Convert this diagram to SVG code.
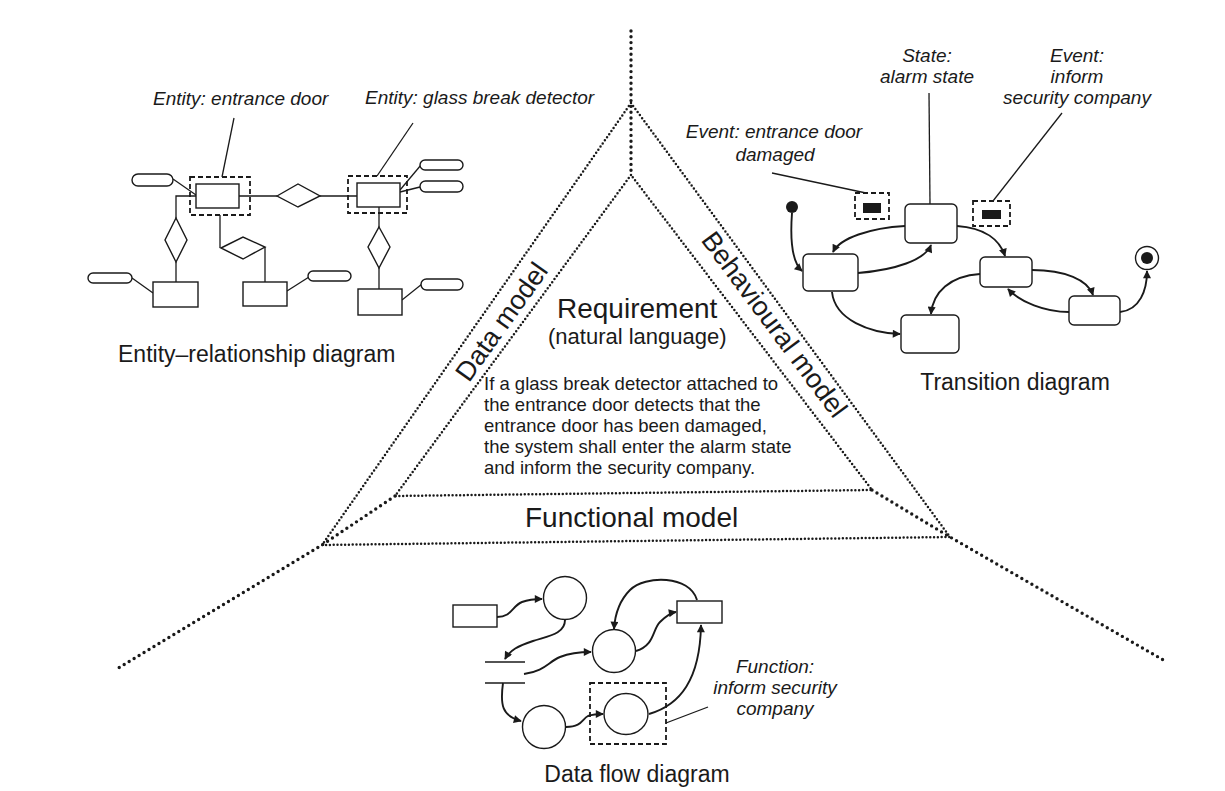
<svg xmlns="http://www.w3.org/2000/svg" width="1225" height="791" viewBox="0 0 1225 791">
<defs>
<style>
.t{font-family:"Liberation Sans",Arial,sans-serif;fill:#1a1a1a}
.it{font-family:"Liberation Sans",Arial,sans-serif;font-style:italic;font-size:19px;fill:#1a1a1a}
.big{font-size:28px}
.lbl{font-size:23px}
.para{font-size:18.5px}
.ln{stroke:#1a1a1a;stroke-width:1.3;fill:none}
.box{stroke:#1a1a1a;stroke-width:1.4;fill:#fff}
.dash{stroke:#1a1a1a;stroke-width:1.8;fill:none;stroke-dasharray:5 3}
.fill{fill:#1a1a1a}
.edge{stroke:#1a1a1a;stroke-width:2.5;fill:none;stroke-dasharray:0 3.8;stroke-linecap:round}
.spoke{stroke:#1a1a1a;stroke-width:3.4;fill:none;stroke-dasharray:0 5.8;stroke-linecap:round}
.arr{stroke:#1a1a1a;stroke-width:1.9;fill:none;marker-end:url(#ah)}
</style>
<marker id="ah" viewBox="0 0 10 10" refX="9" refY="5" markerWidth="10" markerHeight="8" markerUnits="userSpaceOnUse" orient="auto"><path d="M0,0 L10,5 L0,10 z" fill="#1a1a1a"/></marker>
</defs>
<rect width="1225" height="791" fill="#fff"/>

<g id="framework">
<polygon class="edge" points="631,103 322,545 950,537"/>
<polygon class="edge" points="631,175 395,496 872,490"/>
<polyline class="spoke" points="631,31 631,175"/>
<polyline class="spoke" points="395,496 322,545 115,670"/>
<polyline class="spoke" points="872,490 950,537 1165,661"/>
</g>

<g id="requirement">
<text class="t big" x="557" y="318">Requirement</text>
<text class="t" x="548" y="344" font-size="22">(natural language)</text>
<text class="t para" x="484" y="390">If a glass break detector attached to</text>
<text class="t para" x="484" y="411">the entrance door detects that the</text>
<text class="t para" x="484" y="432">entrance door has been damaged,</text>
<text class="t para" x="484" y="453">the system shall enter the alarm state</text>
<text class="t para" x="484" y="474">and inform the security company.</text>
</g>
<g id="data-model"><text class="t" font-size="27" text-anchor="middle" transform="translate(509,327) rotate(-54.5)">Data model</text></g>
<g id="behavioural-model"><text class="t" font-size="27" text-anchor="middle" transform="translate(767,330) rotate(53.3)">Behavioural model</text></g>
<g id="functional-model"><text class="t big" x="525" y="527">Functional model</text></g>

<!-- Entity-relationship diagram -->
<g id="er-connectors">
<line class="ln" x1="234" y1="118" x2="222" y2="177"/>
<line class="ln" x1="413" y1="123" x2="377" y2="176"/>
<line class="ln" x1="173" y1="179" x2="196" y2="195"/>
<line class="ln" x1="239" y1="196" x2="277" y2="196"/>
<line class="ln" x1="320" y1="196" x2="357" y2="196"/>
<polyline class="ln" points="196,196 176,196 176,218"/>
<line class="ln" x1="176" y1="262" x2="176" y2="282"/>
<line class="ln" x1="132" y1="278" x2="153" y2="293"/>
<line class="ln" x1="220" y1="215" x2="220" y2="248"/>
<line class="ln" x1="265" y1="247" x2="265" y2="282"/>
<line class="ln" x1="287" y1="291" x2="309" y2="277"/>
<line class="ln" x1="379" y1="207" x2="379" y2="227"/>
<line class="ln" x1="379" y1="268" x2="379" y2="289"/>
<line class="ln" x1="402" y1="300" x2="422" y2="284"/>
<line class="ln" x1="421" y1="165" x2="400" y2="190"/>
<line class="ln" x1="420" y1="187" x2="400" y2="192"/>
</g>
<g id="er-entity-door">
<rect class="dash" x="190" y="177" width="60" height="38"/>
<rect class="box" x="196" y="184" width="43" height="24"/>
<text class="it" x="153" y="105">Entity: entrance door</text>
</g>
<g id="er-entity-detector">
<rect class="dash" x="348" y="176" width="59" height="37"/>
<rect class="box" x="357" y="183" width="43" height="24"/>
<text class="it" x="365" y="104">Entity: glass break detector</text>
</g>
<g id="er-rel-top"><polygon class="box" points="277,196 298,184 320,196 298,207"/></g>
<g id="er-rel-left"><polygon class="box" points="176,218 187,240 176,262 165,240"/></g>
<g id="er-rel-mid"><polygon class="box" points="221,248 243,237 265,247 243,259"/></g>
<g id="er-rel-right"><polygon class="box" points="379,227 390,247 379,268 368,247"/></g>
<g id="er-ent-left"><rect class="box" x="153" y="282" width="45" height="25"/></g>
<g id="er-ent-mid"><rect class="box" x="243" y="282" width="44" height="24"/></g>
<g id="er-ent-right"><rect class="box" x="358" y="289" width="44" height="26"/></g>
<g id="er-attributes">
<rect class="box" x="132" y="174" width="41" height="12" rx="6"/>
<rect class="box" x="88" y="273" width="44" height="10" rx="5"/>
<rect class="box" x="308" y="271" width="43" height="10" rx="5"/>
<rect class="box" x="421" y="279" width="42" height="11" rx="5.5"/>
<rect class="box" x="420" y="160" width="43" height="10" rx="5"/>
<rect class="box" x="420" y="181" width="43" height="11" rx="5.5"/>
</g>
<g id="er-title"><text class="t lbl" x="118" y="362">Entity–relationship diagram</text></g>

<!-- Transition diagram -->
<g id="td-connectors">
<line class="ln" x1="772" y1="173" x2="866" y2="193"/>
<line class="ln" x1="929" y1="93" x2="930" y2="204"/>
<line class="ln" x1="1062" y1="113" x2="993" y2="201"/>
<path class="arr" d="M792,213 C790,240 792,262 802,271"/>
<path class="arr" d="M905,226 C870,228 840,238 833,252"/>
<path class="arr" d="M858,273 C895,270 925,260 931,245"/>
<path class="arr" d="M957,226 C985,228 1000,240 1005,256"/>
<path class="arr" d="M980,274 C950,276 933,292 931,314"/>
<path class="arr" d="M832,292 C835,320 870,333 900,334"/>
<path class="arr" d="M1032,270 C1065,270 1088,280 1093,295"/>
<path class="arr" d="M1069,312 C1045,312 1020,302 1008,289"/>
<path class="arr" d="M1120,312 C1140,310 1147,290 1147,271"/>
</g>
<g id="td-initial"><circle class="fill" cx="792" cy="207" r="6"/></g>
<g id="td-final"><circle cx="1147" cy="258" r="11.5" fill="#fff" stroke="#1a1a1a" stroke-width="1.4"/><circle class="fill" cx="1147" cy="258" r="6"/></g>
<g id="td-state-alarm">
<rect class="box" x="905" y="204" width="52" height="39" rx="5"/>
<text class="it" x="927" y="62" text-anchor="middle">State:</text>
<text class="it" x="927" y="83" text-anchor="middle">alarm state</text>
</g>
<g id="td-state-left"><rect class="box" x="803" y="254" width="55" height="37" rx="5"/></g>
<g id="td-state-right"><rect class="box" x="980" y="257" width="52" height="30" rx="5"/></g>
<g id="td-state-bottom"><rect class="box" x="901" y="315" width="58" height="38" rx="5"/></g>
<g id="td-state-farright"><rect class="box" x="1069" y="296" width="51" height="29" rx="5"/></g>
<g id="td-event-door">
<rect class="dash" x="855" y="193" width="34" height="26"/>
<rect class="fill" x="863" y="203" width="18" height="10"/>
<text class="it" x="774" y="138" text-anchor="middle">Event: entrance door</text>
<text class="it" x="775" y="161" text-anchor="middle">damaged</text>
</g>
<g id="td-event-inform">
<rect class="dash" x="973" y="201" width="37" height="25"/>
<rect class="fill" x="982" y="210" width="19" height="9"/>
<text class="it" x="1077" y="62" text-anchor="middle">Event:</text>
<text class="it" x="1077" y="83" text-anchor="middle">inform</text>
<text class="it" x="1077" y="104" text-anchor="middle">security company</text>
</g>
<g id="td-title"><text class="t lbl" x="1015" y="390" text-anchor="middle">Transition diagram</text></g>

<!-- Data flow diagram -->
<g id="dfd-connectors">
<path class="arr" d="M497,617 C512,617 512,606 522,602 C530,599 535,599 542,599"/>
<path class="arr" d="M565,620 C565,634 548,636 533,641 C518,646 510,650 505,659"/>
<path class="arr" d="M524,674 C545,671 548,662 560,657 C570,653 580,652 591,652"/>
<path class="arr" d="M636,651 C655,645 652,630 660,622 C666,616 670,613 676,612"/>
<path class="arr" d="M697,600 C690,575 645,575 630,590 C620,600 615,614 614,629"/>
<path class="arr" d="M503,683 C500,705 502,716 521,721"/>
<path class="arr" d="M566,727 C582,727 582,719 588,716 C594,714 598,714 603,714"/>
<path class="arr" d="M649,714 C680,705 700,680 701,625"/>
<line class="ln" x1="666" y1="723" x2="708" y2="707"/>
</g>
<g id="dfd-ext-left"><rect class="box" x="453" y="605" width="44" height="22"/></g>
<g id="dfd-ext-right"><rect class="box" x="677" y="601" width="45" height="22"/></g>
<g id="dfd-proc-1"><circle class="box" cx="565" cy="598" r="21.5"/></g>
<g id="dfd-proc-2"><circle class="box" cx="614" cy="651" r="21.5"/></g>
<g id="dfd-proc-3"><circle class="box" cx="544" cy="727" r="21.5"/></g>
<g id="dfd-proc-inform">
<rect class="dash" x="590" y="683" width="76" height="61"/>
<ellipse class="box" cx="626" cy="714" rx="22" ry="20.5"/>
<text class="it" x="775" y="673" text-anchor="middle">Function:</text>
<text class="it" x="775" y="694" text-anchor="middle">inform security</text>
<text class="it" x="775" y="715" text-anchor="middle">company</text>
</g>
<g id="dfd-store">
<line class="ln" x1="485" y1="662" x2="525" y2="662"/>
<line class="ln" x1="485" y1="683" x2="525" y2="683"/>
</g>
<g id="dfd-title"><text class="t lbl" x="637" y="782" text-anchor="middle">Data flow diagram</text></g>
</svg>
